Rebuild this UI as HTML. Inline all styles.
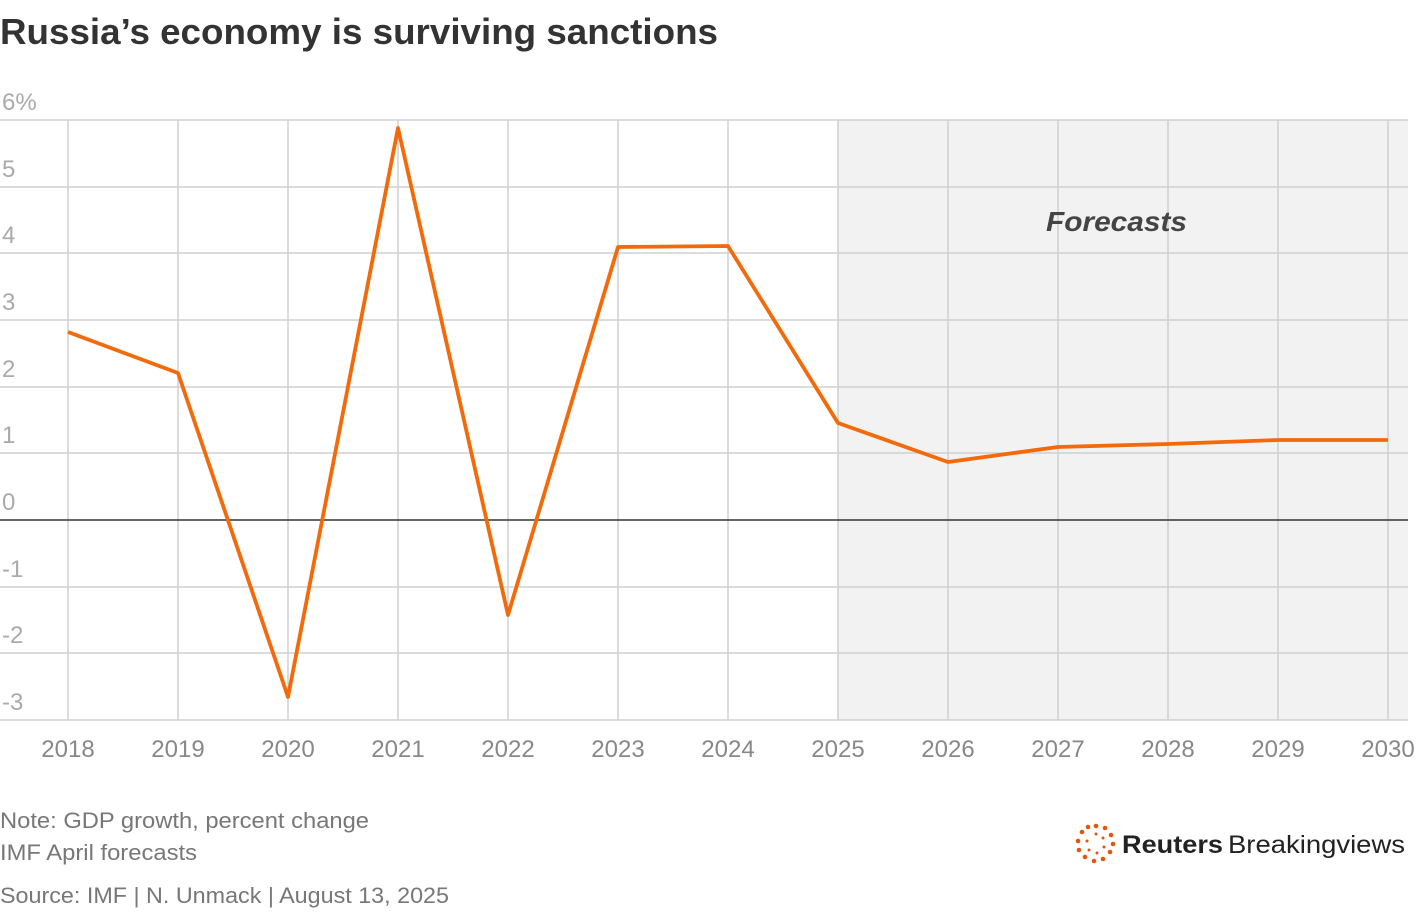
<!DOCTYPE html>
<html><head><meta charset="utf-8"><style>
body{margin:0;background:#fff;}
svg{display:block;font-family:"Liberation Sans",sans-serif;}
</style></head><body>
<svg width="1420" height="912" viewBox="0 0 1420 912">
<rect width="1420" height="912" fill="#fff"/>
<text x="0" y="44" font-size="36" font-weight="bold" fill="#333" textLength="718" lengthAdjust="spacingAndGlyphs">Russia’s economy is surviving sanctions</text>
<rect x="838" y="120" width="570" height="600" fill="#f2f2f2"/>
<g stroke="#d0d0d0" stroke-width="1.5">
<line x1="0" y1="120" x2="1408" y2="120"/>
<line x1="0" y1="187" x2="1408" y2="187"/>
<line x1="0" y1="253" x2="1408" y2="253"/>
<line x1="0" y1="320" x2="1408" y2="320"/>
<line x1="0" y1="387" x2="1408" y2="387"/>
<line x1="0" y1="453" x2="1408" y2="453"/>
<line x1="0" y1="587" x2="1408" y2="587"/>
<line x1="0" y1="653" x2="1408" y2="653"/>
<line x1="0" y1="720" x2="1408" y2="720"/>
<line x1="68" y1="120" x2="68" y2="720"/>
<line x1="178" y1="120" x2="178" y2="720"/>
<line x1="288" y1="120" x2="288" y2="720"/>
<line x1="398" y1="120" x2="398" y2="720"/>
<line x1="508" y1="120" x2="508" y2="720"/>
<line x1="618" y1="120" x2="618" y2="720"/>
<line x1="728" y1="120" x2="728" y2="720"/>
<line x1="838" y1="120" x2="838" y2="720"/>
<line x1="948" y1="120" x2="948" y2="720"/>
<line x1="1058" y1="120" x2="1058" y2="720"/>
<line x1="1168" y1="120" x2="1168" y2="720"/>
<line x1="1278" y1="120" x2="1278" y2="720"/>
<line x1="1388" y1="120" x2="1388" y2="720"/>
</g>
<line x1="0" y1="520" x2="1408" y2="520" stroke="#333" stroke-width="1.5"/>
<g font-size="24" fill="#aaa">
<text x="2" y="110">6%</text><text x="2" y="177">5</text><text x="2" y="243">4</text>
<text x="2" y="310">3</text><text x="2" y="377">2</text><text x="2" y="443">1</text>
<text x="2" y="510">0</text><text x="2" y="577">-1</text><text x="2" y="643">-2</text><text x="2" y="710">-3</text>
</g>
<g font-size="24" fill="#888" text-anchor="middle">
<text x="68" y="757">2018</text><text x="178" y="757">2019</text><text x="288" y="757">2020</text>
<text x="398" y="757">2021</text><text x="508" y="757">2022</text><text x="618" y="757">2023</text>
<text x="728" y="757">2024</text><text x="838" y="757">2025</text><text x="948" y="757">2026</text>
<text x="1058" y="757">2027</text><text x="1168" y="757">2028</text><text x="1278" y="757">2029</text>
<text x="1388" y="757">2030</text>
</g>
<text x="1046" y="231" font-size="28" font-weight="bold" font-style="italic" fill="#444" textLength="141" lengthAdjust="spacingAndGlyphs">Forecasts</text>
<polyline fill="none" stroke="#f26a0a" stroke-width="3.8" stroke-linejoin="round"
points="68,332 178,373 288,697 398,128 508,615 618,247 728,246 838,423 948,462 1058,447 1168,444 1278,440 1388,440"/>
<g font-size="22" fill="#777">
<text x="0" y="828" textLength="369" lengthAdjust="spacingAndGlyphs">Note: GDP growth, percent change</text>
<text x="0" y="860" textLength="197" lengthAdjust="spacingAndGlyphs">IMF April forecasts</text>
<text x="0" y="903" textLength="449" lengthAdjust="spacingAndGlyphs">Source: IMF | N. Unmack | August 13, 2025</text>
</g>
<g fill="#e2550f">
<circle cx="1096" cy="826" r="2.3"/><circle cx="1105" cy="828" r="2.3"/><circle cx="1111" cy="835" r="2.3"/>
<circle cx="1113" cy="844" r="2.3"/><circle cx="1110" cy="852" r="2.3"/><circle cx="1103" cy="859" r="2.3"/>
<circle cx="1094" cy="861" r="2.3"/><circle cx="1085" cy="857" r="2.3"/><circle cx="1079" cy="850" r="2.3"/>
<circle cx="1078" cy="841" r="2.3"/><circle cx="1082" cy="832" r="2.3"/><circle cx="1088" cy="827" r="2.3"/>
<circle cx="1096" cy="834" r="1.5"/><circle cx="1103" cy="838" r="1.5"/><circle cx="1104" cy="847" r="1.5"/>
<circle cx="1097" cy="853" r="1.5"/><circle cx="1089" cy="850" r="1.5"/><circle cx="1087" cy="841" r="1.5"/>
</g>
<text x="1122" y="853" font-size="25" font-weight="bold" fill="#222" textLength="101" lengthAdjust="spacingAndGlyphs">Reuters</text>
<text x="1228" y="853" font-size="25" fill="#222" textLength="177" lengthAdjust="spacingAndGlyphs">Breakingviews</text>
</svg>
</body></html>
